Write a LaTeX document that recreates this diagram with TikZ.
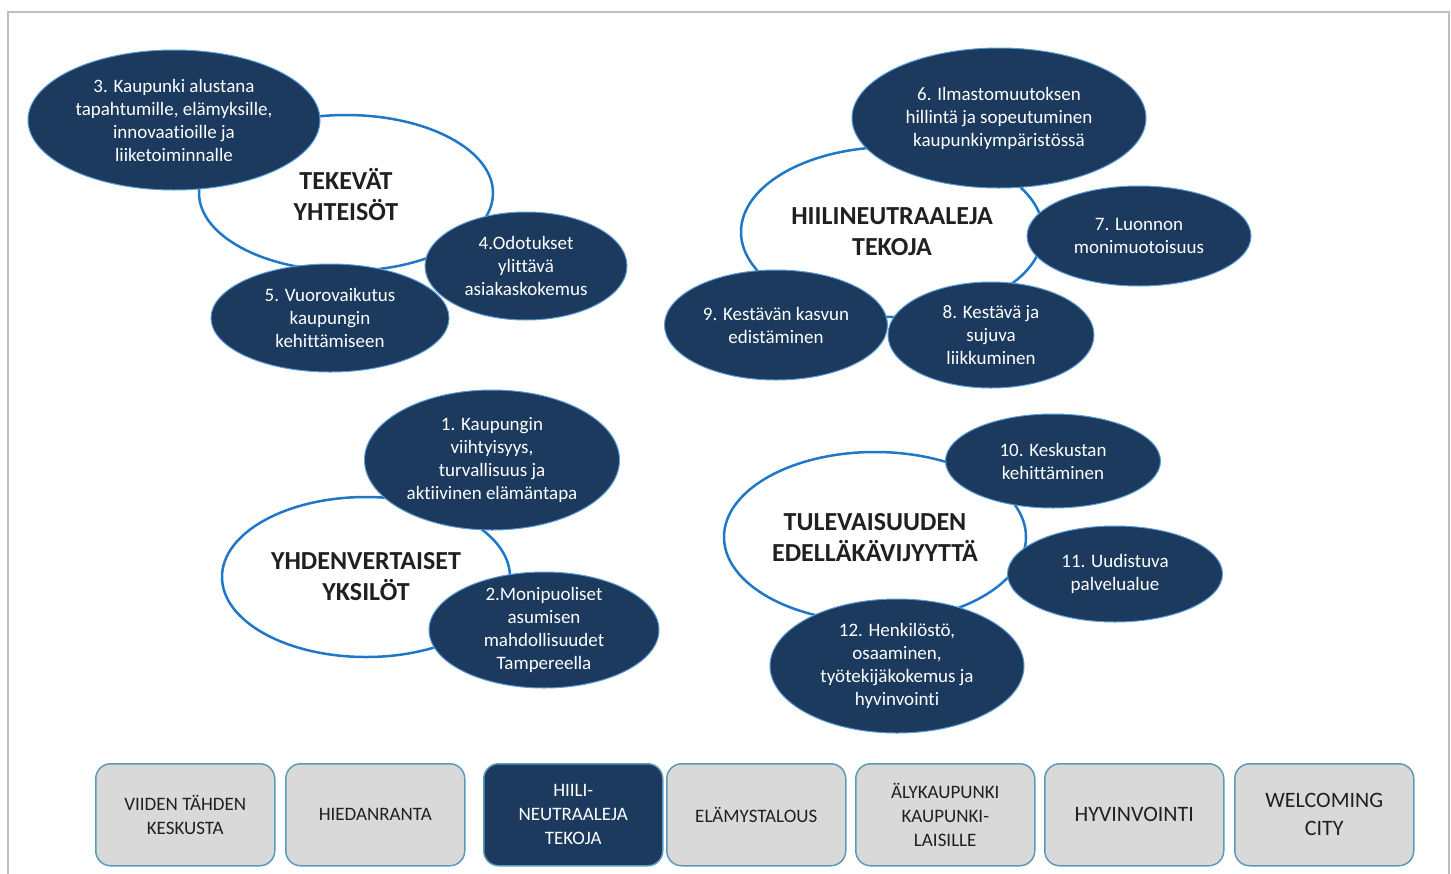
\documentclass[tikz,border=0pt]{standalone}
\usepackage{fontspec}
\setmainfont{Carlito}[Ligatures={NoCommon}]
\usetikzlibrary{shapes.geometric}
\definecolor{navy}{HTML}{1B3A5E}
\definecolor{ringblue}{HTML}{1F77C8}
\definecolor{edgeblue}{HTML}{5B9BD5}
\definecolor{boxgray}{HTML}{D9D9D9}
\definecolor{boxedge}{HTML}{5B9AB8}
\definecolor{framegray}{HTML}{BFBFBF}
\definecolor{txt}{HTML}{202020}
\tikzset{
  maintxt/.style={font=\fontsize{26}{31}\selectfont\bfseries, text=txt, align=center, inner sep=0pt},
  subtxt/.style={font=\fontsize{19}{23}\selectfont, text=white, align=center, inner sep=0pt},
  mainell/.style={ellipse, draw=ringblue, line width=2.5pt, fill=white, inner sep=0pt},
  subell/.style={ellipse, draw=edgeblue, line width=1pt, fill=navy, inner sep=0pt},
  tab/.style={rounded corners=15pt, draw=boxedge, line width=1.5pt, fill=boxgray,
    minimum width=179pt, minimum height=102pt, inner sep=0pt, anchor=north west,
    font=\fontsize{19}{24}\selectfont, text=txt, align=center},
  tabdark/.style={tab, fill=navy, text=white},
  tabbig/.style={tab, font=\fontsize{22}{28}\selectfont}
}
\begin{document}
\begin{tikzpicture}[x=1pt,y=-1pt]
\useasboundingbox (0,0) rectangle (1451,873);
\draw[framegray, line width=1.5pt] (8,12) rectangle (1449,900);

% main ellipses
\node[mainell, minimum width=294pt, minimum height=156pt,
  label={[maintxt, yshift=-2pt]center:{TEKEVÄT\\YHTEISÖT}}] (m1) at (346,193) {};
\node[mainell, minimum width=302pt, minimum height=170pt,
  label={[maintxt]center:{HIILINEUTRAALEJA\\TEKOJA}}] (m2) at (892,232) {};
\node[mainell, minimum width=288pt, minimum height=160pt,
  label={[maintxt]center:{YHDENVERTAISET\\YKSILÖT}}] (m3) at (366,577) {};
\node[mainell, minimum width=302pt, minimum height=170pt,
  label={[maintxt, yshift=-1pt]center:{TULEVAISUUDEN\\EDELLÄKÄVIJYYTTÄ}}] (m4) at (875,537) {};

% sub ellipses
\node[subell, minimum width=292pt, minimum height=140pt,
  label={[subtxt]center:{3. Kaupunki alustana\\tapahtumille, elämyksille,\\innovaatioille ja\\liiketoiminnalle}}] (e3) at (174,120) {};
\node[subell, minimum width=202pt, minimum height=108pt,
  label={[subtxt]center:{4.Odotukset\\ylittävä\\asiakaskokemus}}] (e4) at (526,266) {};
\node[subell, minimum width=238pt, minimum height=108pt,
  label={[subtxt]center:{5. Vuorovaikutus\\kaupungin\\kehittämiseen}}] (e5) at (330,318) {};
\node[subell, minimum width=294pt, minimum height=140pt,
  label={[subtxt]center:{6. Ilmastomuutoksen\\hillintä ja sopeutuminen\\kaupunkiympäristössä}}] (e6) at (999,118) {};
\node[subell, minimum width=224pt, minimum height=100pt,
  label={[subtxt]center:{7. Luonnon\\monimuotoisuus}}] (e7) at (1139,236) {};
\node[subell, minimum width=206pt, minimum height=106pt,
  label={[subtxt]center:{8. Kestävä ja\\sujuva\\liikkuminen}}] (e8) at (991,335) {};
\node[subell, minimum width=223pt, minimum height=110pt,
  label={[subtxt]center:{9. Kestävän kasvun\\edistäminen}}] (e9) at (776,325) {};
\node[subell, minimum width=255pt, minimum height=140pt,
  label={[subtxt]center:{1. Kaupungin\\viihtyisyys,\\turvallisuus ja\\aktiivinen elämäntapa}}] (e1) at (492,460) {};
\node[subell, minimum width=230pt, minimum height=116pt,
  label={[subtxt]center:{2.Monipuoliset\\asumisen\\mahdollisuudet\\Tampereella}}] (e2) at (544,630) {};
\node[subell, minimum width=215pt, minimum height=94pt,
  label={[subtxt]center:{10. Keskustan\\kehittäminen}}] (e10) at (1053,461) {};
\node[subell, minimum width=215pt, minimum height=96pt,
  label={[subtxt]center:{11. Uudistuva\\palvelualue}}] (e11) at (1115,574) {};
\node[subell, minimum width=254pt, minimum height=134pt,
  label={[subtxt]center:{12. Henkilöstö,\\osaaminen,\\työtekijäkokemus ja\\hyvinvointi}}] (e12) at (897,666) {};

% bottom tabs
\node[tab] (t1) at (95,763) {VIIDEN TÄHDEN\\KESKUSTA};
\node[tab] (t2) at (285,763) {HIEDANRANTA};
\node[tabdark] (t3) at (483,763) {HIILI-\\NEUTRAALEJA\\TEKOJA};
\node[tab] (t4) at (666,763) {ELÄMYSTALOUS};
\node[tab] (t5) at (855,763) {ÄLYKAUPUNKI\\KAUPUNKI-\\LAISILLE};
\node[tabbig] (t6) at (1044,763) {HYVINVOINTI};
\node[tabbig] (t7) at (1234,763) {WELCOMING\\CITY};
\end{tikzpicture}
\end{document}
